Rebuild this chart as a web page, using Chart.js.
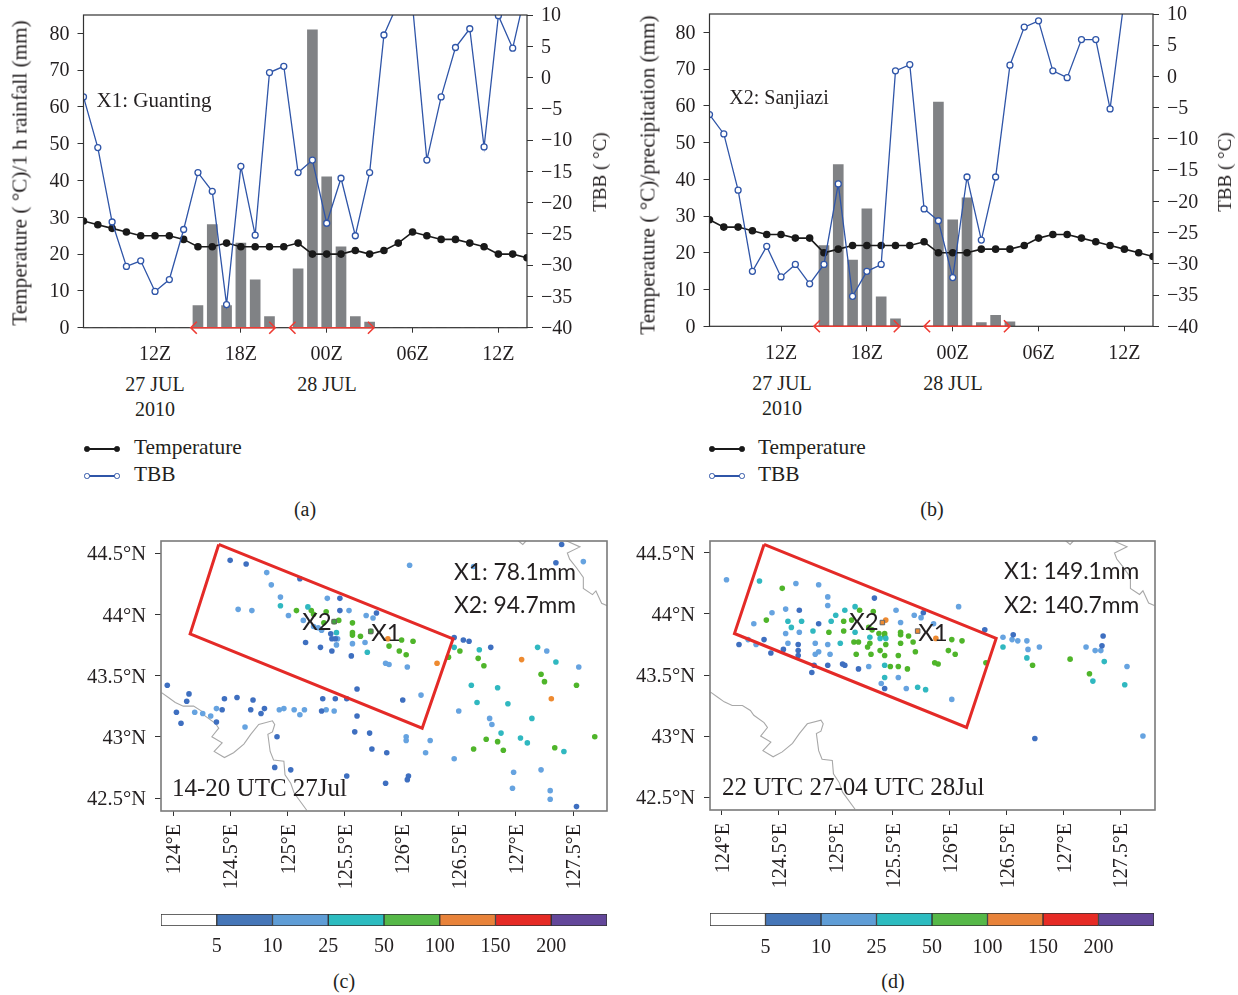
<!DOCTYPE html>
<html>
<head>
<meta charset="utf-8">
<script src="https://cdn.jsdelivr.net/npm/chart.js@4"></script>
<style>
  body { margin: 0; background: #fff; width: 1238px; height: 995px; position: relative; overflow: hidden; }
  canvas { position: absolute; }
  .t { position: absolute; white-space: nowrap; color: #231f20; font: 20px "Liberation Serif", serif; }
</style>
</head>
<body>
<canvas id="chartA" width="620" height="365" style="left:0;top:0"></canvas>
<canvas id="chartB" width="618" height="365" style="left:620px;top:0"></canvas>
<canvas id="mapC" width="550" height="370" style="left:70px;top:530px"></canvas>
<canvas id="mapD" width="618" height="370" style="left:620px;top:530px"></canvas>
<canvas id="barC" width="470" height="60" style="left:150px;top:905px"></canvas>
<canvas id="barD" width="470" height="60" style="left:700px;top:905px"></canvas>
<script>
// hourly axis, 07Z 27 Jul to 14Z 28 Jul
const hours = ['07Z','08Z','09Z','10Z','11Z','12Z','13Z','14Z','15Z','16Z','17Z','18Z','19Z','20Z','21Z','22Z',
  '23Z','00Z','01Z','02Z','03Z','04Z','05Z','06Z','07Z','08Z','09Z','10Z','11Z','12Z','13Z','14Z'];
const hourTicks = [5, 11, 17, 23, 29];

const tempA = [29,28,27,26,25,25,25,24,22,22,23,22,22,22,22,23,20,20,20,21,20,21,23,26,25,24,24,23,22,20,20,19];
const tbbA = [-3.1,-11.2,-23.1,-30.2,-29.3,-34.2,-32.3,-24.3,-15.2,-18.2,-36.3,-14.2,-25.2,0.8,1.8,-15.2,
  -13.2,-23.3,-16.1,-25.3,-15.2,6.8,12,11.5,-13.2,-3.1,4.8,7.8,-11.1,9.9,4.7,14.7];
const rainA = [0,0,0,0,0,0,0,0,6,28,6,23,13,3,0,16,81,41,22,3,1.5,0,0,0,0,0,0,0,0,0,0,0];
const spansA = [[7.5,13.4],[14.4,20.3]];

const tempB = [29,27,27,26,25,25,24,24,20,21,22,22,22,22,22,23,20,20,20,21,21,21,22,24,25,25,24,23,22,21,20,19];
const tbbB = [-6.1,-9.2,-18.2,-31.2,-27.2,-32.1,-30.1,-33.2,-30.1,-17.2,-35.2,-31.2,-30.1,0.9,1.9,-21.2,
  -23.1,-32.2,-16.1,-26.2,-16.1,1.8,7.9,8.9,0.9,-0.2,5.9,5.9,-5.2,12.5,14,14];
const rainB = [0,0,0,0,0,0,0,0,22,44,18,32,8,2,0,0,61,29,35,1,3,1.2,0,0,0,0,0,0,0,0,0,0];
const spansB = [[7.3,13.3],[15,21]];

// stations by rain class, [lon, lat]
const c5 = [[124.50,44.44],[124.64,44.41],[125.11,44.29],[125.46,44.13],[125.46,44.03],[125.78,44.01],[125.16,43.77],
  [125.29,43.73],[125.39,43.70],[125.56,43.66],[125.38,43.84],[125.39,43.80],[125.42,43.80],[123.95,43.42],[124.14,43.35],
  [124.12,43.29],[124.03,43.20],[124.07,43.11],[124.45,43.31],[124.56,43.32],[124.70,43.30],[124.68,43.22],[124.43,43.22],
  [124.80,43.23],[124.77,43.19],[124.38,43.12],[125.31,43.31],[125.42,43.31],[125.52,43.31],[125.61,43.39],[125.30,43.21],
  [125.61,43.17],[124.91,43.00],[125.59,43.04],[125.72,43.03],[125.74,42.90],[125.87,42.87],[124.89,42.75],[125.03,42.73],
  [125.52,42.68],[125.86,42.62],[127.40,44.57],[127.35,44.42],[126.46,43.81],[126.54,43.79],[126.59,43.78],[126.78,43.73],
  [126.01,43.30],[126.06,42.68],[126.05,42.65],[127.53,42.43]];
const c10 = [[124.82,44.34],[124.86,44.24],[124.94,44.14],[124.57,44.04],[124.69,44.03],[125.35,44.13],[125.01,43.99],
  [125.14,43.95],[125.54,44.03],[125.69,43.99],[125.75,43.97],[125.30,43.87],[125.27,43.89],[125.23,43.90],[125.43,43.75],
  [125.44,43.80],[125.57,43.76],[125.68,43.77],[125.86,43.60],[125.89,43.59],[124.19,43.20],[124.26,43.19],[124.33,43.17],
  [124.38,43.23],[124.63,43.08],[124.93,43.22],[124.97,43.23],[125.06,43.22],[125.15,43.22],[125.11,43.18],[125.34,43.22],
  [125.41,43.21],[126.07,44.40],[126.63,44.39],[127.59,44.43],[127.27,43.70],[127.55,43.57],[126.05,43.57],[126.17,43.34],
  [126.50,43.21],[126.77,43.15],[126.79,43.10],[126.04,43.00],[126.04,42.97],[126.25,42.97],[126.21,42.87],[126.46,42.82],
  [126.98,42.71],[127.22,42.73],[126.97,42.58],[127.30,42.56],[127.30,42.49]];
const c25 = [[124.94,44.07],[125.18,44.06],[125.43,43.85],[125.70,43.69],[126.46,43.73],[126.68,43.71],[127.19,43.73],
  [127.35,43.61],[126.61,43.42],[126.84,43.40],[126.66,43.28],[126.93,43.27],[127.14,43.15],[126.87,43.03],[127.04,42.99],
  [127.10,42.95],[127.42,42.88]];
const c50 = [[125.08,44.03],[125.21,44.03],[125.34,44.02],[125.45,43.95],[125.32,43.93],[125.57,43.93],[125.57,43.85],
  [125.57,43.83],[125.64,43.82],[125.73,43.86],[125.89,43.74],[125.41,43.94],[125.23,44.00],[126.00,43.79],[126.10,43.78],
  [125.98,43.70],[126.04,43.67],[126.41,43.65],[126.51,43.70],[126.67,43.64],[126.72,43.58],[127.22,43.51],[127.25,43.45],
  [127.53,43.42],[127.69,43.00],[126.74,42.98],[126.84,42.96],[126.89,42.89],[126.63,42.90],[127.34,42.91]];
const c100 = [[125.88,43.80],[126.31,43.60],[127.05,43.63],[127.31,43.31]];

const d5 = [[124.15,43.75],[124.37,43.79],[124.43,43.68],[124.54,43.71],[124.67,43.75],[124.68,44.03],[124.85,43.92],
  [124.67,43.70],[124.67,43.66],[124.81,43.58],[124.79,43.52],[124.93,43.58],[125.06,43.59],[125.08,43.58],[125.20,43.55],
  [125.34,44.13],[125.77,44.01],[125.43,43.39],[126.31,43.87],[126.56,43.83],[127.34,43.74],[126.75,42.98],[127.35,43.82]];
const d10 = [[124.04,44.28],[124.65,44.25],[124.85,44.24],[124.93,44.14],[124.93,44.07],[124.56,44.04],[124.44,44.01],
  [124.28,43.92],[124.56,43.84],[124.68,43.85],[124.58,43.76],[124.82,43.76],[124.93,43.75],[124.82,43.67],[124.85,43.69],
  [124.95,43.67],[125.29,43.57],[125.40,43.43],[125.55,43.48],[125.62,43.39],[125.53,44.03],[125.69,43.99],[125.75,43.97],
  [125.57,43.93],[125.86,43.92],[124.30,43.75],[124.23,43.79],[126.08,44.06],[126.47,43.81],[126.55,43.79],[126.60,43.78],
  [126.68,43.78],[126.69,43.71],[126.79,43.73],[127.20,43.73],[127.28,43.70],[127.33,43.70],[127.56,43.57],[127.70,43.00],
  [126.02,43.30]];
const d25 = [[124.33,44.27],[125.08,44.03],[125.00,43.99],[125.17,44.06],[124.58,43.94],[124.70,43.94],[124.61,43.89],
  [124.80,43.86],[124.96,43.94],[125.17,43.85],[125.04,43.76],[125.30,43.81],[125.39,43.80],[125.44,43.80],[125.43,43.48],
  [125.72,43.40],[125.79,43.38],[125.43,43.58],[126.47,43.73],[126.68,43.64],[127.36,43.61],[127.26,43.45],[127.54,43.42]];
const d50 = [[124.53,44.21],[124.39,43.95],[124.94,43.85],[125.07,43.86],[125.07,43.94],[125.14,43.95],[125.21,44.03],
  [125.33,44.02],[125.29,43.89],[125.32,43.87],[125.38,43.84],[125.43,43.84],[125.43,43.82],[125.57,43.85],[125.57,43.83],
  [125.64,43.82],[125.68,43.77],[125.57,43.76],[125.44,43.75],[125.30,43.76],[125.28,43.73],[125.16,43.77],[125.20,43.77],
  [125.18,43.67],[125.31,43.67],[125.39,43.70],[125.43,43.66],[125.55,43.66],[125.70,43.69],[125.99,43.70],[125.87,43.60],
  [125.90,43.59],[125.48,43.57],[125.55,43.57],[125.63,43.55],[126.11,43.78],[126.02,43.79],[126.05,43.67],[126.32,43.60],
  [126.73,43.58],[127.06,43.63],[127.23,43.51]];
const d100 = [[125.88,43.80],[125.44,43.95]];

const stationsC = [[125.73,43.86],[125.41,43.94]];
const stationsD = [[125.72,43.86],[125.41,43.93]];
const boxC = [[124.40,44.57],[126.45,43.80],[126.18,43.07],[124.15,43.84],[124.40,44.57]];
const boxD = [[124.37,44.57],[126.41,43.80],[126.15,43.07],[124.11,43.84],[124.37,44.57]];

const borderSouth = [[123.90,43.36],[123.96,43.32],[124.02,43.28],[124.09,43.25],[124.18,43.25],[124.25,43.21],[124.28,43.17],
  [124.37,43.11],[124.40,43.07],[124.34,43.00],[124.43,42.95],[124.36,42.88],[124.45,42.83],[124.53,42.87],[124.62,42.94],
  [124.68,43.02],[124.75,43.10],[124.87,43.13],[124.89,43.10],[124.87,43.04],[124.83,43.02],[124.85,42.88],[124.88,42.81],
  [124.97,42.80],[124.98,42.69],[125.03,42.62],[125.06,42.54],[125.17,42.40]];
const borderNorth = [[127.02,44.60],[127.06,44.57],[127.09,44.60]];
const borderEast = [[127.44,44.60],[127.56,44.55],[127.45,44.50],[127.47,44.45],[127.53,44.38],[127.59,44.30],[127.59,44.21],
  [127.67,44.16],[127.70,44.19],[127.75,44.09],[127.80,44.07]];

const lonTicks = [124,124.5,125,125.5,126,126.5,127,127.5];
const latTicks = [42.5,43,43.5,44,44.5];
const rainLabels = ['5','10','25','50','100','150','200'];
const rainColors = ['#ffffff','#4576b8','#5f9dd6','#2cbcc0','#56b848','#e8833a','#e62b25','#63479a'];
const dotColors = ['#3e6fc0','#66a3e0','#30b8c0','#4fb52a','#ee8a30'];

const INK = '#231f20';
const SERIF = 'Liberation Serif';
Chart.defaults.animation = false;
Chart.defaults.responsive = false;
Chart.defaults.font.family = SERIF;
Chart.defaults.font.size = 20;
Chart.defaults.color = INK;

const framePlugin = {
  id: 'frame',
  afterDraw(chart, args, opts) {
    if (!opts.color) return;
    const a = chart.chartArea, ctx = chart.ctx;
    ctx.save();
    ctx.strokeStyle = opts.color;
    ctx.lineWidth = opts.width;
    ctx.strokeRect(a.left, a.top, a.right - a.left, a.bottom - a.top);
    ctx.restore();
  }
};
const arrowPlugin = {
  id: 'arrows',
  afterDraw(chart, args, opts) {
    if (!opts.spans) return;
    const ctx = chart.ctx, x = chart.scales.x, y = chart.scales.y.getPixelForValue(0);
    ctx.save();
    ctx.strokeStyle = '#ee3b33';
    ctx.lineWidth = 1.6;
    opts.spans.forEach(([from, to]) => {
      const a = x.getPixelForValue(from), b = x.getPixelForValue(to);
      ctx.beginPath();
      ctx.moveTo(a, y); ctx.lineTo(b, y);
      ctx.moveTo(a + 6, y - 6); ctx.lineTo(a, y); ctx.lineTo(a + 6, y + 6);
      ctx.moveTo(b - 6, y - 6); ctx.lineTo(b, y); ctx.lineTo(b - 6, y + 6);
      ctx.stroke();
    });
    ctx.restore();
  }
};
Chart.register(framePlugin, arrowPlugin);

// keep the plot box where it is asked for, whatever the tick labels measure
function fixBox(s, size) {
  if (s.isHorizontal()) s.height = size; else s.width = size;
  s.paddingTop = s.paddingBottom = s.paddingLeft = s.paddingRight = 0;
}

function hourChart(id, temp, tbb, rain, spans, box) {
  return new Chart(document.getElementById(id), {
    type: 'bar',
    data: {
      labels: hours,
      datasets: [
        { type: 'line', label: 'TBB', data: tbb, yAxisID: 'y2', order: 0, clip: 0, borderColor: '#2f55a8', borderWidth: 1.3,
          pointRadius: 3, pointBackgroundColor: '#fff', pointBorderColor: '#2f55a8', pointBorderWidth: 1.3, tension: 0 },
        { type: 'line', label: 'Temperature', data: temp, yAxisID: 'y', order: 1, clip: 0, borderColor: '#1a1a1a', borderWidth: 1.6,
          pointRadius: 3, pointBackgroundColor: '#1a1a1a', pointBorderColor: '#1a1a1a', tension: 0 },
        { label: 'Rainfall', data: rain, yAxisID: 'y', order: 2, backgroundColor: '#808285', barThickness: 10 }
      ]
    },
    options: {
      layout: { padding: { top: box.top } },
      plugins: { legend: { display: false }, tooltip: { enabled: false },
        frame: { color: '#333', width: 1.2 }, arrows: { spans } },
      scales: {
        x: {
          type: 'category', offset: false,
          grid: { offset: false, drawOnChartArea: false, tickLength: 5, tickColor: '#333' },
          border: { display: false },
          ticks: { autoSkip: false, maxRotation: 0, padding: 10 },
          afterBuildTicks: s => { s.ticks = hourTicks.map(v => ({ value: v })); },
          afterFit: s => fixBox(s, box.bottom)
        },
        y: {
          min: 0, max: 85,
          grid: { drawOnChartArea: false, tickLength: 6, tickColor: '#333' },
          border: { display: false },
          ticks: { stepSize: 10, includeBounds: false, padding: 8, labelOffset: 1 },
          afterFit: s => fixBox(s, box.left)
        },
        y2: {
          position: 'right', min: -40, max: 10,
          grid: { drawOnChartArea: false, tickLength: 6, tickColor: '#333' },
          border: { display: false },
          ticks: { stepSize: 5, padding: 8, labelOffset: 1,
            callback: v => String(v).replace('-', '\u2212') },
          afterFit: s => fixBox(s, box.right)
        }
      }
    }
  });
}

function mapChart(id, classes, stations, rect, stationColor, box) {
  const dots = classes.map((pts, i) => ({
    label: rainLabels[i], data: pts, order: 3, pointRadius: 2.8, pointBorderWidth: 0,
    pointBackgroundColor: dotColors[i], showLine: false
  }));
  const line = (pts, color, width, order) => ({ data: pts, showLine: true, pointRadius: 0, borderColor: color,
    borderWidth: width, tension: 0, order, clip: 0 });
  return new Chart(document.getElementById(id), {
    type: 'scatter',
    data: {
      datasets: [
        { label: 'stations', data: stations, order: 1, pointStyle: 'rect', pointRadius: 3.2, pointBorderWidth: 1,
          pointBackgroundColor: stationColor, pointBorderColor: '#666' },
        line(rect, '#e42a27', 3, 0),
        ...dots,
        line(borderSouth, '#a8a8a8', 1.1, 4),
        line(borderNorth, '#a8a8a8', 1.1, 4),
        line(borderEast, '#a8a8a8', 1.1, 4)
      ]
    },
    options: {
      layout: { padding: { top: box.top, right: box.right } },
      plugins: { legend: { display: false }, tooltip: { enabled: false }, frame: { color: '#7a7a7a', width: 1.6 } },
      scales: {
        x: {
          type: 'linear', min: box.lonMin, max: box.lonMax,
          grid: { drawOnChartArea: false, tickLength: 5, tickColor: '#333' },
          border: { display: false },
          ticks: { minRotation: 90, maxRotation: 90, autoSkip: false, padding: 8, labelOffset: 2, callback: v => v + '\u00b0E' },
          afterBuildTicks: s => { s.ticks = lonTicks.map(v => ({ value: v })); },
          afterFit: s => fixBox(s, box.bottom)
        },
        y: {
          min: box.latMin, max: box.latMax,
          grid: { drawOnChartArea: false, tickLength: 6, tickColor: '#333' },
          border: { display: false },
          ticks: { padding: 9, labelOffset: 2, font: { size: 20.5 }, callback: v => v + '\u00b0N' },
          afterBuildTicks: s => { s.ticks = latTicks.map(v => ({ value: v })); },
          afterFit: s => fixBox(s, box.left)
        }
      }
    }
  });
}

function colorBar(id, box) {
  return new Chart(document.getElementById(id), {
    type: 'bar',
    data: {
      labels: [''],
      datasets: rainColors.map(c => ({ data: [1], backgroundColor: c, borderColor: '#333', borderWidth: 1,
        borderSkipped: false, barPercentage: 1, categoryPercentage: 1 }))
    },
    options: {
      indexAxis: 'y',
      layout: { padding: { top: box.top, left: box.left, right: box.right } },
      plugins: { legend: { display: false }, tooltip: { enabled: false } },
      scales: {
        x: { stacked: true, min: 0, max: rainColors.length, grid: { display: false }, border: { display: false },
          ticks: { autoSkip: false, padding: box.pad, maxRotation: 0, callback: v => rainLabels[v - 1] },
          afterBuildTicks: s => { s.ticks = rainLabels.map((l, i) => ({ value: i + 1 })); },
          afterFit: s => fixBox(s, box.bottom) },
        y: { stacked: true, display: false }
      }
    }
  });
}

hourChart('chartA', tempA, tbbA, rainA, spansA, { top: 15, left: 83.5, right: 93, bottom: 37.3 });
hourChart('chartB', tempB, tbbB, rainB, spansB, { top: 14, left: 89.5, right: 85, bottom: 38.7 });
mapChart('mapC', [c5, c10, c25, c50, c100], stationsC, boxC, '#3fa43a',
  { top: 11, left: 91, right: 13, bottom: 89, lonMin: 123.895, lonMax: 127.797, latMin: 42.394, latMax: 44.598 });
mapChart('mapD', [d5, d10, d25, d50, d100], stationsD, boxD, '#ee8a30',
  { top: 11, left: 90, right: 83, bottom: 90, lonMin: 123.895, lonMax: 127.806, latMin: 42.394, latMax: 44.598 });
colorBar('barC', { top: 9, left: 11, right: 13, bottom: 39, pad: 1 });
colorBar('barD', { top: 8, left: 10, right: 16, bottom: 39, pad: 2 });

// text placed around the charts, x/y are the text centre unless left is set
function txt(s, x, y, o = {}) {
  const d = document.createElement('div');
  d.className = 't';
  d.textContent = s;
  d.style.left = x + 'px';
  d.style.top = y + 'px';
  d.style.transform = `translate(${o.left ? '0' : '-50%'},-50%) rotate(${o.rot || 0}deg)`;
  if (o.font) d.style.fontFamily = o.font;
  if (o.size) d.style.fontSize = o.size + 'px';
  document.body.appendChild(d);
}
// legend key: a short line with a marker at both ends
function key(x1, x2, y, color, fill) {
  const line = document.createElement('div');
  line.style.cssText = `position:absolute;left:${x1}px;top:${y - 0.6}px;width:${x2 - x1}px;height:1.2px;background:${color}`;
  document.body.appendChild(line);
  [x1, x2].forEach(x => {
    const m = document.createElement('div');
    m.style.cssText = `position:absolute;left:${x - 2.8}px;top:${y - 2.8}px;width:3.4px;height:3.4px;border-radius:50%;border:1.1px solid ${color};background:${fill}`;
    document.body.appendChild(m);
  });
}

txt('Temperature ( \u00b0C)/1 h rainfall (mm)', 20, 173, { rot: -90, size: 21.2 });
txt('TBB ( \u00b0C)', 600, 172, { rot: -90, size: 19 });
txt('27 JUL', 155, 384); txt('2010', 155, 409); txt('28 JUL', 327, 384);
txt('X1: Guanting', 154, 100, { size: 21 });
txt('Temperature', 134, 447, { left: true, size: 21.4 }); txt('TBB', 134, 474, { left: true, size: 21.4 });
key(87, 117, 449, '#1a1a1a', '#1a1a1a'); key(87, 117, 476, '#2f55a8', '#fff');
txt('(a)', 305, 509);

txt('Temperature ( \u00b0C)/precipitation (mm)', 648, 175, { rot: -90, size: 21.2 });
txt('TBB ( \u00b0C)', 1225, 172, { rot: -90, size: 19 });
txt('27 JUL', 782, 383); txt('2010', 782, 408); txt('28 JUL', 953, 383);
txt('X2: Sanjiazi', 779, 97);
txt('Temperature', 758, 447, { left: true, size: 21.4 }); txt('TBB', 758, 474, { left: true, size: 21.4 });
key(712, 742, 449, '#1a1a1a', '#1a1a1a'); key(712, 742, 476, '#2f55a8', '#fff');
txt('(b)', 932, 509);

const LATO = 'Lato';
txt('X1: 78.1mm', 454, 571, { left: true, font: LATO, size: 22.8 });
txt('X2: 94.7mm', 454, 604, { left: true, font: LATO, size: 22.8 });
txt('X2', 317, 620, { font: LATO, size: 24 });
txt('X1', 386, 631, { font: LATO, size: 24 });
txt('14-20 UTC 27Jul', 172, 788, { left: true, size: 25 });
txt('(c)', 344, 981);

txt('X1: 149.1mm', 1004, 570, { left: true, font: LATO, size: 22.8 });
txt('X2: 140.7mm', 1004, 604, { left: true, font: LATO, size: 22.8 });
txt('X2', 864, 620, { font: LATO, size: 24 });
txt('X1', 933, 631, { font: LATO, size: 24 });
txt('22 UTC 27-04 UTC 28Jul', 722, 787, { left: true, size: 25 });
txt('(d)', 893, 981);
</script>
</body>
</html>
